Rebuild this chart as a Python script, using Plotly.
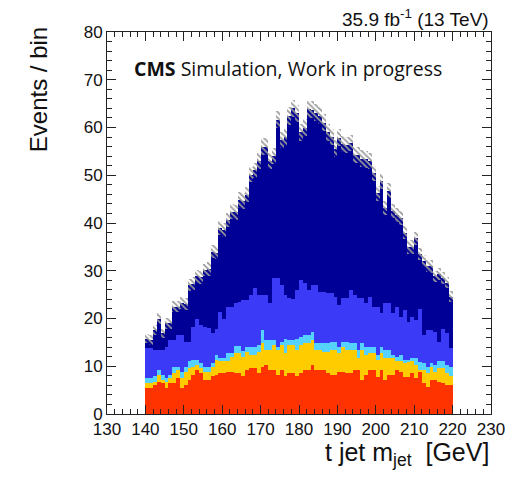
import numpy as np
import plotly.graph_objects as go

# bin edges: 1 GeV bins from 140 to 220
bin_lo = list(range(140, 220))

red = [5.4, 5.4, 6.1, 6.8, 6.5, 5.4, 6.5, 6.5, 7.5, 5.4,
       6.1, 7.2, 8.2, 9.2, 8.5, 7.2, 7.2, 7.9, 8.2, 8.5,
       8.5, 8.8, 8.8, 8.5, 8.5, 7.9, 9.2, 9.6, 9.6, 8.5,
       9.9, 10.3, 9.2, 9.2, 8.2, 9.2, 7.9, 8.5, 8.5, 7.9,
       8.5, 9.2, 9.2, 10.3, 9.2, 9.2, 9.2, 8.5, 8.2, 8.2,
       8.8, 8.8, 8.5, 8.5, 9.2, 9.2, 7.1, 8.2, 9.2, 9.2,
       7.8, 9.2, 7.1, 8.2, 8.2, 9.2, 8.9, 7.8, 7.8, 8.5,
       7.5, 8.9, 6.4, 5.7, 7.1, 7.1, 6.8, 6.4, 6.1, 6.1]
yellow = [1.1, 1.1, 0.7, 1.4, 0.7, 1.4, 1.0, 2.0, 1.7, 2.1,
          2.7, 2.4, 1.7, 1.1, 1.1, 1.6, 1.6, 2.0, 3.1, 2.5,
          2.5, 2.2, 3.2, 4.2, 4.2, 4.1, 3.7, 2.7, 2.7, 4.4,
          4.9, 3.1, 4.2, 5.2, 5.2, 5.2, 4.8, 5.9, 5.9, 5.5,
          5.9, 5.6, 5.6, 5.2, 4.2, 4.2, 3.7, 4.4, 5.2, 5.2,
          3.9, 5.3, 4.9, 4.9, 4.2, 2.5, 6.3, 4.1, 3.5, 3.5,
          3.5, 3.5, 4.6, 3.5, 3.5, 1.8, 2.1, 2.8, 3.2, 2.5,
          2.8, 0.3, 2.8, 2.8, 2.8, 1.7, 2.8, 3.2, 2.4, 1.8]
cyan = [1.0, 1.0, 1.1, 1.0, 1.0, 0.7, 0.7, 1.4, 0.7, 1.3,
        1.1, 1.4, 1.4, 1.0, 1.0, 1.1, 1.1, 0.7, 1.1, 0.7,
        0.7, 1.7, 0.7, 1.5, 1.5, 1.1, 1.2, 1.8, 1.8, 1.5,
        2.8, 2.1, 2.1, 1.1, 0.7, 0.7, 3.1, 1.1, 1.1, 2.4,
        1.8, 1.7, 1.7, 1.7, 1.4, 1.4, 1.9, 1.9, 1.7, 1.7,
        1.4, 1.0, 1.7, 1.4, 1.4, 1.7, 1.4, 1.8, 1.4, 1.4,
        1.1, 1.4, 1.7, 1.7, 0.7, 1.0, 1.4, 0.7, 0.3, 0.7,
        1.4, 1.7, 1.4, 1.4, 0.7, 1.5, 1.4, 1.4, 1.8, 2.0]
blue = [6.3, 6.3, 5.5, 4.2, 5.2, 6.6, 7.2, 5.5, 6.6, 7.7,
        5.2, 4.1, 7.0, 8.5, 8.0, 8.4, 8.1, 6.3, 5.5, 9.7,
        8.3, 9.8, 9.8, 9.0, 9.3, 10.8, 9.8, 10.8, 12.2, 10.5,
        7.4, 9.4, 7.7, 12.9, 14.3, 11.9, 9.1, 8.7, 8.5, 10.2,
        11.9, 10.9, 9.5, 9.8, 12.2, 10.8, 10.8, 10.6, 10.3, 9.5,
        8.7, 9.1, 9.1, 11.2, 10.1, 10.8, 9.4, 9.1, 10.5, 8.4,
        10.1, 7.0, 9.9, 9.9, 8.7, 10.5, 8.0, 10.5, 8.0, 8.7,
        8.0, 11.1, 5.9, 7.7, 7.0, 6.9, 4.1, 6.9, 6.6, 3.9]
navy = [2.0, 1.7, 4.2, 6.6, 3.5, 4.9, 3.6, 7.1, 6.0, 6.7,
        7.9, 11.9, 9.0, 9.0, 10.0, 11.9, 12.4, 17.1, 15.9, 17.5,
        18.6, 18.1, 19.9, 19.0, 21.3, 20.7, 22.0, 25.2, 24.7, 28.1,
        31.0, 31.1, 29.8, 25.6, 33.2, 30.4, 33.1, 38.2, 40.0, 37.0,
        30.9, 32.6, 37.8, 36.7, 36.1, 36.9, 35.4, 33.6, 32.6, 31.0,
        35.1, 32.3, 32.1, 30.7, 29.3, 30.0, 29.3, 30.1, 28.4, 27.9,
        23.7, 27.6, 19.8, 23.5, 21.4, 19.2, 20.6, 16.2, 15.7, 14.6,
        17.1, 11.5, 15.5, 13.4, 13.3, 11.6, 14.2, 10.6, 10.6, 10.8]
stat_unc = [1.0, 1.0, 1.0, 1.1, 1.0, 1.1, 1.1, 1.1, 1.2, 1.2,
            1.2, 1.3, 1.3, 1.3, 1.3, 1.3, 1.4, 1.4, 1.4, 1.5,
            1.5, 1.5, 1.5, 1.5, 1.6, 1.6, 1.6, 1.6, 1.6, 1.7,
            1.7, 1.7, 1.7, 1.7, 1.8, 1.7, 1.7, 1.8, 1.8, 1.8,
            1.8, 1.8, 1.8, 1.8, 1.8, 1.8, 1.8, 1.8, 1.7, 1.7,
            1.7, 1.7, 1.7, 1.7, 1.7, 1.7, 1.7, 1.7, 1.7, 1.6,
            1.6, 1.6, 1.5, 1.6, 1.5, 1.5, 1.5, 1.4, 1.4, 1.4,
            1.4, 1.3, 1.3, 1.3, 1.3, 1.2, 1.2, 1.2, 1.2, 1.1]

colors = ["#ff3300", "#ffcc00", "#55d2ff", "#3b3bf7", "#000096"]
processes = [red, yellow, cyan, blue, navy]

x_centers = np.array(bin_lo) + 0.5
fig = go.Figure()
base = np.zeros(len(bin_lo))
for vals, col in zip(processes, colors):
    v = np.array(vals)
    fig.add_trace(go.Bar(x=x_centers, y=v, base=base.copy(), width=1.0,
                         marker=dict(color=col, line=dict(width=0)),
                         showlegend=False, hoverinfo="skip"))
    base = base + v
total = base
unc = np.array(stat_unc)
fig.add_trace(go.Bar(x=x_centers, y=2 * unc, base=total - unc, width=1.0,
                     marker=dict(color="rgba(0,0,0,0)", line=dict(width=0),
                                 pattern=dict(shape="\\", fgcolor="#9a9a9a",
                                              bgcolor="rgba(0,0,0,0)",
                                              size=4, solidity=0.45,
                                              fillmode="replace")),
                     showlegend=False, hoverinfo="skip"))

sans = "Liberation Sans, Arial, sans-serif"
tickfont = dict(family=sans, size=17, color="#111")
fig.update_layout(
    width=517, height=477,
    margin=dict(l=107, r=24, t=32, b=63),
    paper_bgcolor="white", plot_bgcolor="white",
    barmode="overlay", bargap=0,
    xaxis=dict(range=[130, 230], tickmode="linear", tick0=130, dtick=10,
               ticks="inside", ticklen=9, tickwidth=1, tickcolor="#222",
               minor=dict(ticks="inside", ticklen=5, dtick=2, tickcolor="#222"),
               showline=True, linecolor="#222", linewidth=1, mirror="allticks",
               showgrid=False, zeroline=False, tickfont=tickfont),
    yaxis=dict(range=[0, 80], tickmode="linear", tick0=0, dtick=10,
               ticks="inside", ticklen=9, tickwidth=1, tickcolor="#222",
               minor=dict(ticks="inside", ticklen=5, dtick=2, tickcolor="#222"),
               showline=True, linecolor="#222", linewidth=1, mirror="allticks",
               showgrid=False, zeroline=False, tickfont=tickfont),
    annotations=[
        dict(text="35.9 fb<sup>-1</sup> (13 TeV)", xref="paper", yref="paper",
             x=1.0, y=1.0, xanchor="right", yanchor="bottom", yshift=0,
             showarrow=False, font=dict(family=sans, size=19, color="#111")),
        dict(text="<b>CMS</b> Simulation, Work in progress", xref="paper", yref="paper",
             x=0.065, y=0.905, xanchor="left", yanchor="middle", showarrow=False,
             font=dict(family="Open Sans, sans-serif", size=19.5, color="#111")),
        dict(text="Events / bin", xref="paper", yref="paper",
             x=-0.18, y=0.85, xanchor="center", yanchor="middle", textangle=-90,
             showarrow=False, font=dict(family=sans, size=24, color="#111")),
        dict(text="t jet m<sub>jet</sub>  [GeV]", xref="paper", yref="paper",
             x=1.0, y=-0.105, xanchor="right", yanchor="middle", showarrow=False,
             font=dict(family=sans, size=25, color="#111")),
    ],
)
fig.write_html("out.html")
